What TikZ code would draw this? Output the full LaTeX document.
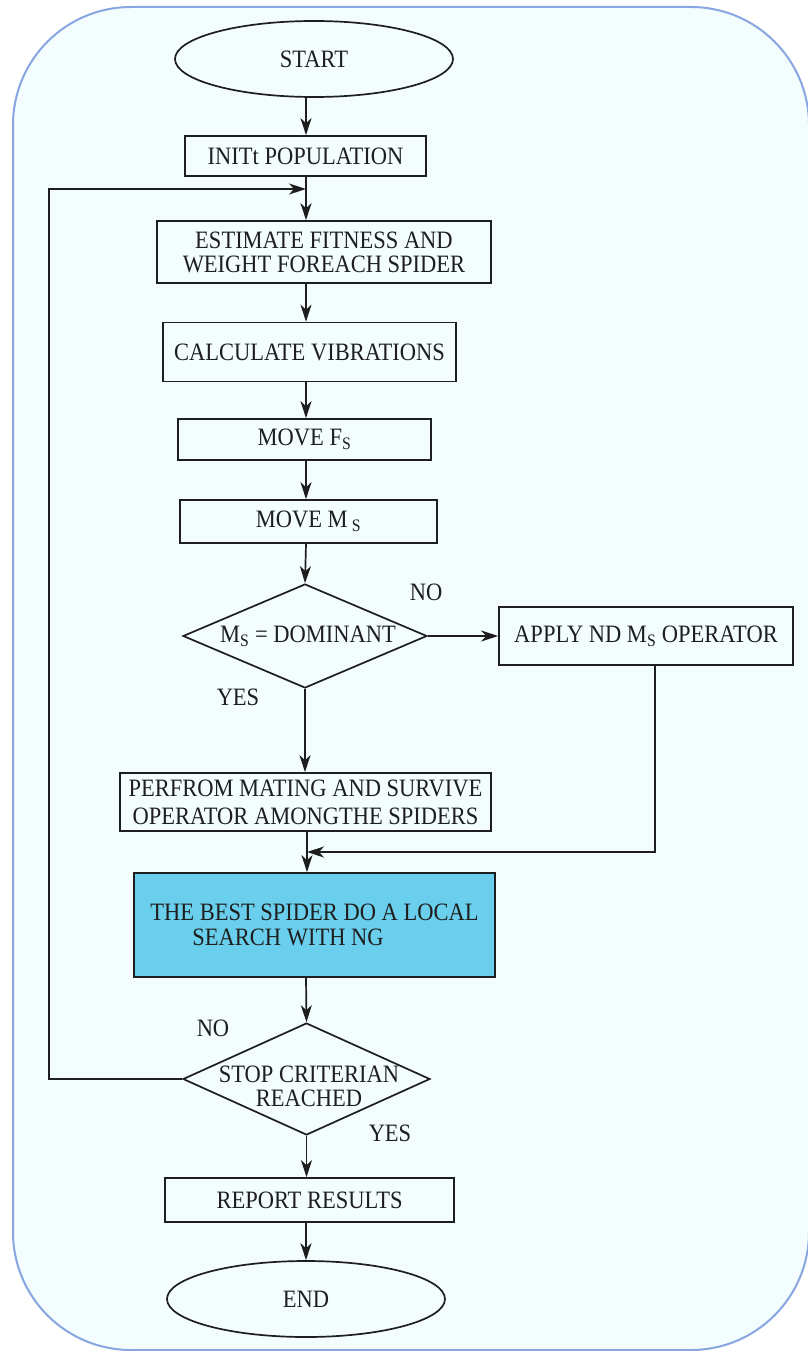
\documentclass[tikz,border=0pt]{standalone}
\usepackage{fontspec}
\setmainfont{Liberation Serif}[FakeStretch=0.9]
\usetikzlibrary{shapes.geometric,arrows.meta}

\definecolor{panelfill}{HTML}{F3FDFE}
\definecolor{panelline}{HTML}{88A6E0}
\definecolor{ink}{HTML}{1E1E1E}
\definecolor{hilite}{HTML}{6ACFEC}

\tikzset{
  every node/.style={font=\fontsize{25}{25}\selectfont, text=ink},
  stepbox/.style={draw=ink, line width=1.7pt, rectangle, inner sep=0pt, align=center},
  terminal/.style={draw=ink, line width=1.7pt, ellipse, inner sep=0pt},
  decision/.style={draw=ink, line width=1.7pt, diamond, inner sep=0pt},
  caption/.style={inner sep=0pt, align=center},
  flow/.style={draw=ink, line width=1.7pt, -{Stealth[length=17pt,width=11pt,inset=5pt]}},
}

\begin{document}
\begin{tikzpicture}[x=1pt,y=-1pt]
  % page and rounded panel
  \useasboundingbox (0,0) rectangle (807,1351);
  \fill[white] (0,0) rectangle (807,1351);
  \draw[draw=panelline, line width=2pt, fill=panelfill, rounded corners=118pt]
    (13,7) rectangle (809,1350);

  % flow steps
  \node[terminal, minimum width=278pt, minimum height=76pt] (start) at (314,59) {START};
  \node[stepbox, minimum width=241pt, minimum height=40pt] (init) at (305.5,156) {INITt POPULATION};
  \node[stepbox, minimum width=334pt, minimum height=62pt, font=\fontsize{25}{24}\selectfont] (est) at (324,252)
    {ESTIMATE FITNESS AND\\WEIGHT FOREACH SPIDER};
  \node[stepbox, minimum width=293pt, minimum height=59pt] (calc) at (309.5,352) {CALCULATE VIBRATIONS};
  \node[stepbox, minimum width=253pt, minimum height=41pt] (movef) at (304.5,439.5) {MOVE F\textsubscript{S}};
  \node[stepbox, minimum width=257pt, minimum height=43pt] (movem) at (308.5,521.5) {MOVE M\,\textsubscript{S}};

  \node[decision, minimum width=244pt, minimum height=104pt] (dom) at (305,636) {};
  \node[caption] (domtext) at (308,636) {M\textsubscript{S} = DOMINANT};

  \node[stepbox, minimum width=294pt, minimum height=58pt] (apply) at (646,636)
    {APPLY ND M\textsubscript{S} OPERATOR};

  \node[stepbox, minimum width=371pt, minimum height=58pt, font=\fontsize{25}{28}\selectfont] (perf) at (305.5,802)
    {PERFROM MATING AND SURVIVE\\OPERATOR AMONGTHE SPIDERS};
  \node[stepbox, fill=hilite, minimum width=361pt, minimum height=104pt, align=left] (best) at (314.5,925)
    {THE BEST SPIDER DO A LOCAL\\\hspace*{42pt}SEARCH WITH NG};

  \node[decision, minimum width=247pt, minimum height=112pt] (stop) at (306.5,1079) {};
  \node[caption, font=\fontsize{25}{24}\selectfont] (stoptext) at (309,1086) {STOP CRITERIAN\\REACHED};

  \node[stepbox, minimum width=289pt, minimum height=44pt] (report) at (309.5,1200) {REPORT RESULTS};
  \node[terminal, minimum width=278pt, minimum height=76pt] (end) at (306,1299) {END};

  % branch labels
  \node[caption] (noA) at (426,592) {NO};
  \node[caption] (yesA) at (238,697) {YES};
  \node[caption] (noB) at (213,1028) {NO};
  \node[caption] (yesB) at (390,1133) {YES};

  % helper points for the vertical spine and the two joins
  \coordinate (spine) at (306,0);
  \coordinate (joinTop) at (306,189);
  \coordinate (loopCorner) at (49,189);
  \coordinate (joinMid) at (307,852);

  % main downward connectors
  \draw[flow] (start.south -| spine) -- (init.north -| spine);
  \draw[flow] (init.south -| spine) -- (est.north -| spine);
  \draw[flow] (est.south -| spine) -- (calc.north -| spine);
  \draw[flow] (calc.south -| spine) -- (movef.north -| spine);
  \draw[flow] (movef.south -| spine) -- (movem.north -| spine);
  \draw[flow] (movem.south -| spine) -- (dom.north);
  \draw[flow] (dom.south) -- (dom.south |- perf.north);
  \draw[flow] (perf.south -| joinMid) -- (best.north -| joinMid);
  \draw[flow] (best.south -| spine) -- (stop.north);
  \draw[flow] (stop.south) -- (stop.south |- report.north);
  \draw[flow] (report.south -| spine) -- (end.north -| spine);

  % NO branch of the dominance test
  \draw[flow] (dom.east) -- (dom.east -| apply.west);
  \draw[flow] ([xshift=9pt]apply.south) |- (joinMid);

  % loop back when the stop criterion is not met
  \draw[flow] (stop.west) -| (loopCorner) -- (joinTop);
\end{tikzpicture}
\end{document}
